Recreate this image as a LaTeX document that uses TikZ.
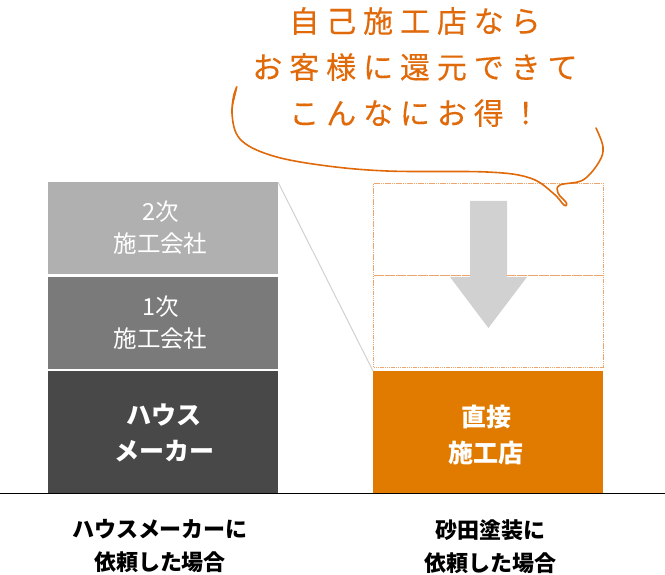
\documentclass[tikz,border=0pt]{standalone}
\usepackage{fontspec}
\setmainfont{Noto Sans CJK JP}
\newfontfamily\jpwide[LetterSpace=23,FakeBold=0.25]{Noto Sans CJK JP}
\definecolor{hand}{HTML}{E0690A}
\definecolor{fillorange}{HTML}{E07B00}
\definecolor{dotline}{HTML}{EDA56E}
\definecolor{lightgrey}{HTML}{D1D1D1}
\definecolor{gtwo}{HTML}{B0B0B0}
\definecolor{gone}{HTML}{7A7A7A}
\definecolor{gzero}{HTML}{484848}
\tikzset{
  band/.style={inner sep=0pt,outer sep=0pt,minimum width=230pt,anchor=north west},
  lighttext/.style={text=white,align=center,font=\fontsize{23.5}{32}\selectfont},
  strongtext/.style={text=white,align=center,font=\bfseries\fontsize{25}{36}\selectfont},
  caption/.style={text=black,align=center,font=\bfseries\fontsize{22}{33}\selectfont},
  dotbox/.style={draw=dotline,line width=1pt,dash pattern=on 1.5pt off .7pt,inner sep=0pt,outer sep=0pt,minimum width=230pt,minimum height=92pt,anchor=north west},
}
\begin{document}
\begin{tikzpicture}[x=1pt,y=-1pt]
\useasboundingbox (0,0) rectangle (665,575);
% left stack
\node[band,fill=gtwo,minimum height=92pt] (b2) at (48,182) {};
\node[band,fill=gone,minimum height=92pt] (b1) at (48,277) {};
\node[band,fill=gzero,minimum height=122pt] (b0) at (48,371) {};
\node[lighttext] (t2) at (160.5,228) {2次\\施工会社};
\node[lighttext] (t1) at (160.5,323) {1次\\施工会社};
\node[strongtext] (t0) at (164,433) {ハウス\\メーカー};
% right stack
\node[dotbox] (d2) at (373.5,183.5) {};
\node[dotbox] (d1) at (373.5,275.5) {};
\node[band,fill=fillorange,minimum height=122pt] (o) at (373,371) {};
\node[strongtext] (to) at (486,435) {直接\\施工店};
% connector
\draw[lightgrey,line width=1pt] (b2.north east) -- (o.north west);
% arrow
\fill[lightgrey] (470,201) -- (507,201) -- (507,277) -- (527,277) -- (488.4,328) -- (450,277) -- (470,277) -- cycle;
% baseline
\draw[black,line width=1pt] (0,493.5) -- (665,493.5);
% captions
\node[caption] (c1) at (160,546.5) {ハウスメーカーに\\依頼した場合};
\node[caption] (c2) at (490,546.5) {砂田塗装に\\依頼した場合};
% handwritten text
\node[text=hand,font=\jpwide\fontsize{30}{46}\selectfont,align=center] (hw) at (415,67) {自己施工店なら\\お客様に還元できて\\こんなにお得！};
% speech curve
\draw[hand,line width=1.6pt,line cap=round,line join=round]
  plot[smooth,tension=.6] coordinates {(236.5,87) (232,113) (240,139) (270,155) (320,165) (387,171) (487,172) (530,178) (553,193) (564,205) (566.5,203) (558,193) (560,185) (583,180) (599,162) (603,147) (596,128)};
\fill[hand] (237.5,86) .. controls (233,90) and (231,102) .. (231.5,114) .. controls (233,102) and (236,96) .. (237.5,86) -- cycle;
\end{tikzpicture}
\end{document}
